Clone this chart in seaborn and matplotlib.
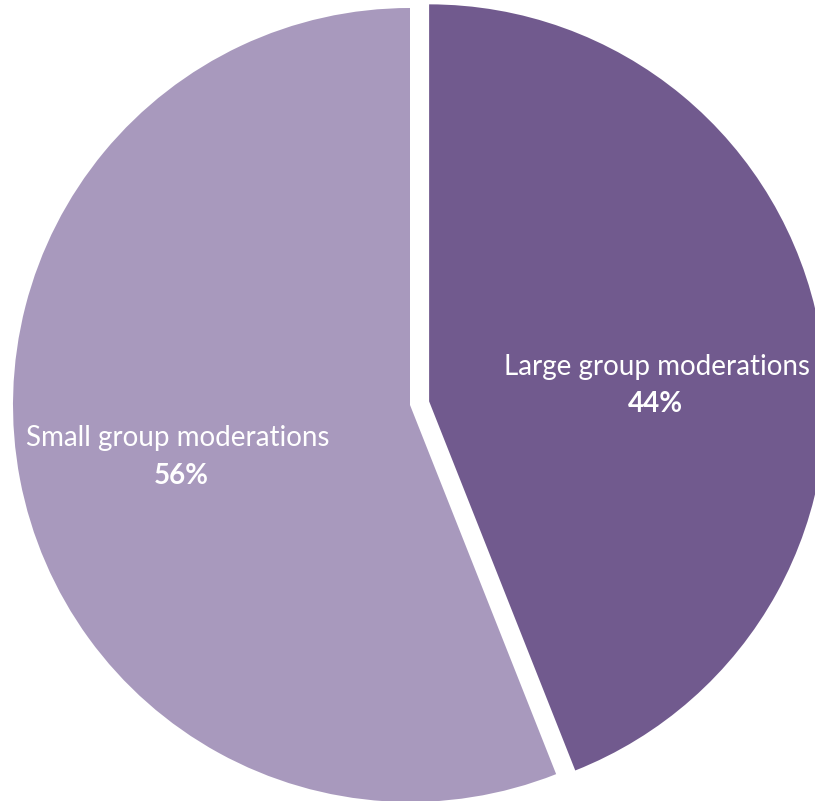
import matplotlib
matplotlib.use("Agg")
import matplotlib.pyplot as plt
import seaborn as sns

# data
categories = ["Large group moderations", "Small group moderations"]
shares = [44, 56]
slice_colors = ["#715A8E", "#A899BD"]

sns.set_theme(style="white")
plt.rcParams["font.family"] = ["Lato", "DejaVu Sans"]

W, H = 815, 801
fig = plt.figure(figsize=(W / 100, H / 100), dpi=100)
ax = fig.add_axes([0, 0, 1, 1])

# pie centre / radius in pixels
cx, cy, r = 410, 405, 397

wedges, texts, autotexts = ax.pie(
    shares,
    labels=categories,
    colors=slice_colors,
    explode=[0.049, 0],
    startangle=90,
    counterclock=False,
    autopct="%.0f%%",
    radius=1,
    wedgeprops=dict(linewidth=0),
)

# label placement (pixel positions -> data)
def px(x, y):
    return ((x - cx) / r, (cy - y) / r)

label_pos = [px(657, 367), px(178, 438)]
pct_pos = [px(655, 404), px(181, 476)]
for t, p in zip(texts, label_pos):
    t.set_position(p)
    t.set_ha("center")
    t.set_va("center")
    t.set_color("white")
    t.set_fontsize(20)
for t, p in zip(autotexts, pct_pos):
    t.set_position(p)
    t.set_ha("center")
    t.set_va("center")
    t.set_color("white")
    t.set_fontsize(20)
    t.set_fontweight("bold")

ax.set_xlim(-cx / r, (W - cx) / r)
ax.set_ylim(-(H - cy) / r, cy / r)
ax.set_aspect("auto")
ax.axis("off")

fig.savefig("out.png", dpi=100, facecolor="white")
